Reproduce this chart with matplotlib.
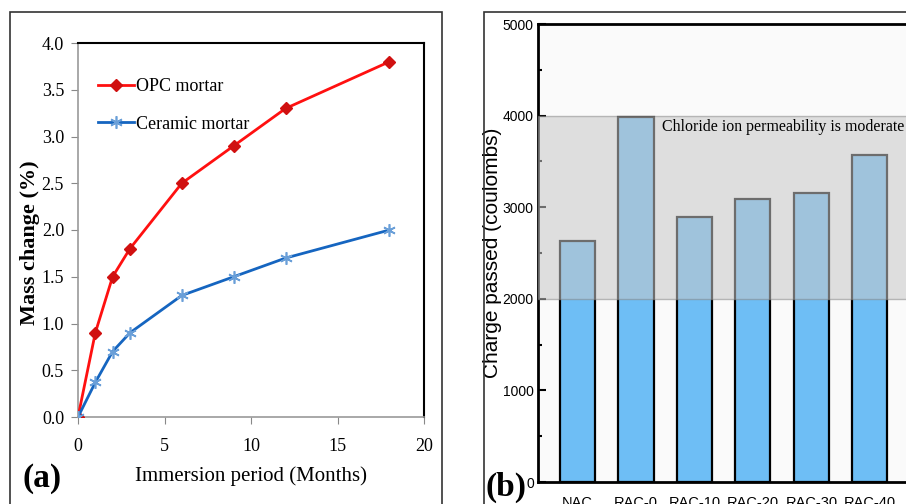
import matplotlib
matplotlib.use("Agg")
import matplotlib.pyplot as plt
from matplotlib.patches import Rectangle
from matplotlib.ticker import MultipleLocator, FormatStrFormatter

# panel (a): mass change vs immersion period
months = [0, 1, 2, 3, 6, 9, 12, 18]
opc_mass = [0.0, 0.9, 1.5, 1.8, 2.5, 2.9, 3.3, 3.8]
ceramic_mass = [0.0, 0.37, 0.7, 0.9, 1.3, 1.5, 1.7, 2.0]

# panel (b): charge passed
mixes = ["NAC", "RAC-0", "RAC-10", "RAC-20", "RAC-30", "RAC-40"]
charge = [2636, 3985, 2890, 3085, 3155, 3575]
moderate_band = (2000, 4000)

SERIF = ["Liberation Serif", "DejaVu Serif"]
SANS = ["Liberation Sans", "DejaVu Sans"]

fig = plt.figure(figsize=(9.06, 5.04), dpi=100)

# outer frames round each panel, as in the source figure
fig.patches.append(Rectangle((10 / 906, -0.1), 432 / 906, 1.1 - 12 / 504,
                             transform=fig.transFigure, fill=False,
                             edgecolor="#333333", linewidth=1.2))
fig.patches.append(Rectangle((484 / 906, -0.1), 0.6, 1.1 - 12 / 504,
                             transform=fig.transFigure, fill=False,
                             edgecolor="#333333", linewidth=1.2))

# ---- (a)
ax = fig.add_axes([78 / 906, 1 - 417 / 504, 346 / 906, 374 / 504])
ax.plot(months, opc_mass, color="#ff1010", lw=2.0, marker="D", ms=6,
        mfc="#d01010", mec="#d01010", label="OPC mortar", zorder=3)
ax.plot(months, ceramic_mass, color="#1565c0", lw=2.0, marker=(6, 2, 0), ms=9,
        mec="#6a9fd8", mew=1.2, label="Ceramic mortar", zorder=3)
ax.set_xlim(0, 20)
ax.set_ylim(0, 4.0)
ax.xaxis.set_major_locator(MultipleLocator(5))
ax.yaxis.set_major_locator(MultipleLocator(0.5))
ax.yaxis.set_major_formatter(FormatStrFormatter("%.1f"))
for side in ("left", "bottom"):
    ax.spines[side].set_color("#999999")
    ax.spines[side].set_linewidth(1.2)
for side in ("top", "right"):
    ax.spines[side].set_color("black")
    ax.spines[side].set_linewidth(1.5)
ax.tick_params(direction="out", length=5, color="#888888", labelsize=13, pad=5)
ax.tick_params(axis="x", pad=10)
for lab in ax.get_xticklabels() + ax.get_yticklabels():
    lab.set_family(SERIF)
ax.set_xlabel("Immersion period (Months)", family=SERIF, fontsize=15, labelpad=8)
ax.set_ylabel("Mass change (%)", family=SERIF, fontsize=16, fontweight="bold")
ax.yaxis.set_label_coords(-0.11, 0.465)
ax.legend(loc="upper left", bbox_to_anchor=(0.01, 0.95), frameon=False,
          prop={"family": SERIF, "size": 13}, handlelength=2.0,
          handletextpad=0.1, labelspacing=1.15)
fig.text(22 / 906, 1 - 478 / 504, "(a)", family=SERIF, fontsize=24,
         fontweight="bold", va="center", ha="left")

# ---- (b)
x = list(range(len(mixes)))
bx = fig.add_axes([538 / 906, 1 - 482 / 504, 422 / 906, 458 / 504])
bx.set_facecolor("#fafafa")
bx.bar(x, charge, width=0.6, color="#6ebef5", edgecolor="black", linewidth=1.6,
       zorder=2)
bx.axhspan(*moderate_band, facecolor="#c8c8c8", alpha=0.55,
           edgecolor="#888888", linewidth=1.0, zorder=3)
bx.text(1.45, 3880, "Chloride ion permeability is moderate", family=SERIF,
        fontsize=11.4, va="center", ha="left", zorder=4)
bx.set_xlim(-0.675, 6.54)
bx.set_ylim(0, 5000)
bx.set_xticks(x)
bx.set_xticklabels(mixes, family=SANS, fontsize=10.5)
bx.yaxis.set_major_locator(MultipleLocator(1000))
bx.yaxis.set_minor_locator(MultipleLocator(500))
bx.tick_params(axis="y", which="both", direction="in", labelsize=10, pad=3)
bx.tick_params(axis="y", which="major", length=6, width=1.5)
bx.tick_params(axis="y", which="minor", length=3, width=1.5)
bx.tick_params(axis="x", length=0, pad=10)
for lab in bx.get_yticklabels():
    lab.set_family(SANS)
for s in bx.spines.values():
    s.set_linewidth(2.0)
bx.set_ylabel("Charge passed (coulombs)", family=SANS, fontsize=15)
bx.yaxis.set_label_coords(-0.085, 0.5)
fig.text(486 / 906, 1 - 487 / 504, "(b)", family=SERIF, fontsize=24,
         fontweight="bold", va="center", ha="left")

fig.savefig("out.png", dpi=100)
